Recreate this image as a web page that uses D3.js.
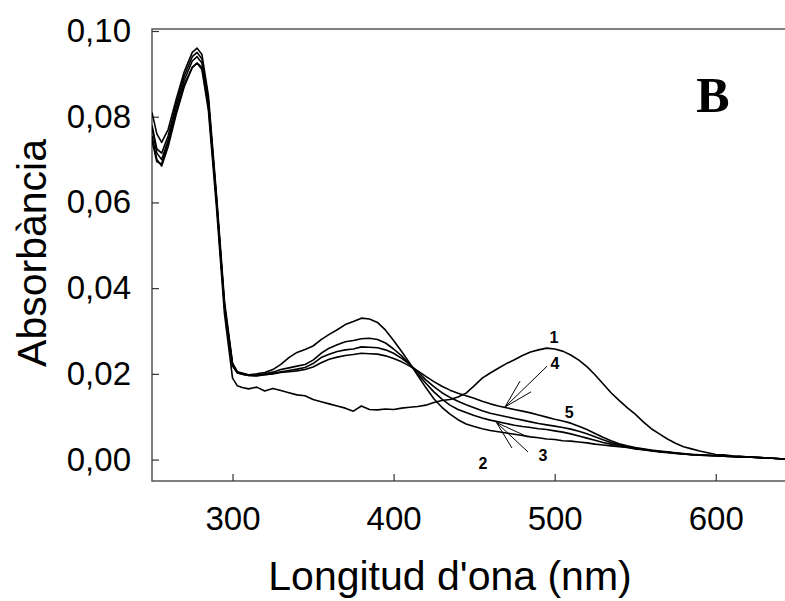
<!DOCTYPE html>
<html>
<head>
<meta charset="utf-8">
<script src="https://cdn.jsdelivr.net/npm/d3@7"></script>
<style>
body { margin: 0; background: #fff; }
text { font-family: Arial, "Liberation Sans", sans-serif; }
</style>
</head>
<body>
<div id="chart"></div>
<script>
// wavelength grid (nm), finer round the 278 nm peak
var wavelengths = [250, 253, 256, 260, 265, 270, 275, 278, 281, 285, 290, 295, 300, 303, 306,
    310, 315, 320, 325, 330, 335, 340, 345, 350, 355, 360, 365, 370, 375, 380, 385, 390, 395,
    400, 405, 410, 415, 420, 425, 430, 435, 440, 445, 450, 455, 460, 465, 470, 475, 480, 485,
    490, 495, 500, 505, 510, 515, 520, 525, 530, 535, 540, 545, 550, 555, 560, 565, 570, 575,
    580, 585, 590, 595, 600, 605, 610, 615, 620, 625, 630, 635, 640, 645];

// absorbance
var abs1 = [0.0745, 0.0695, 0.069, 0.074, 0.081, 0.0875, 0.0915, 0.0925, 0.091, 0.0815, 0.059, 0.034, 0.019, 0.0172, 0.0168,
    0.0165, 0.0169, 0.016, 0.0166, 0.0161, 0.0156, 0.0151, 0.0149, 0.014, 0.0135, 0.013, 0.0125, 0.012, 0.0113, 0.0125, 0.0117, 0.0116, 0.0118,
    0.0117, 0.012, 0.0122, 0.0124, 0.0127, 0.0133, 0.0138, 0.014, 0.0146, 0.0155, 0.0172, 0.019, 0.0202, 0.0213, 0.0224, 0.0233, 0.0243, 0.0251,
    0.0256, 0.026, 0.0258, 0.0253, 0.0244, 0.0232, 0.0217, 0.0198, 0.0177, 0.0156, 0.0138, 0.0121, 0.0106, 0.0088, 0.0072, 0.006, 0.0048, 0.0038,
    0.003, 0.0025, 0.002, 0.0016, 0.0012, 0.0011, 0.0009, 0.0008, 0.0006, 0.0006, 0.0004, 0.0003, 0.0002, 0.0001];
var abs2 = [0.081, 0.076, 0.074, 0.077, 0.084, 0.0905, 0.095, 0.096, 0.0945, 0.085, 0.062, 0.037, 0.0225, 0.0205, 0.0202,
    0.0198, 0.02, 0.0203, 0.021, 0.0222, 0.0238, 0.025, 0.0257, 0.0265, 0.028, 0.0292, 0.0303, 0.0315, 0.0322, 0.033, 0.0328, 0.032, 0.0302,
    0.0278, 0.0252, 0.0225, 0.0196, 0.0168, 0.0142, 0.0122, 0.0106, 0.0093, 0.0083, 0.0077, 0.0072, 0.0068, 0.0065, 0.0062, 0.0059, 0.0056, 0.0053,
    0.0051, 0.0048, 0.0047, 0.0044, 0.0043, 0.0041, 0.0039, 0.0036, 0.0034, 0.0032, 0.003, 0.0028, 0.0025, 0.0023, 0.002, 0.0018, 0.0016, 0.0014,
    0.0013, 0.0011, 0.001, 0.0009, 0.0009, 0.0008, 0.0007, 0.0006, 0.0006, 0.0005, 0.0004, 0.0003, 0.0002, 0.0001];
var abs3 = [0.078, 0.0725, 0.0715, 0.0755, 0.083, 0.0895, 0.094, 0.095, 0.0935, 0.084, 0.061, 0.036, 0.022, 0.0203, 0.0199,
    0.0196, 0.0197, 0.02, 0.0204, 0.021, 0.0214, 0.0218, 0.0222, 0.0232, 0.0248, 0.026, 0.0268, 0.0275, 0.0278, 0.0282, 0.0283, 0.028, 0.0272,
    0.0258, 0.0242, 0.0222, 0.02, 0.0178, 0.0158, 0.0141, 0.0127, 0.0117, 0.011, 0.0103, 0.0097, 0.0092, 0.0088, 0.0084, 0.008, 0.0077, 0.0075,
    0.0072, 0.007, 0.0067, 0.0064, 0.006, 0.0055, 0.005, 0.0045, 0.004, 0.0036, 0.0032, 0.0029, 0.0026, 0.0023, 0.0021, 0.0019, 0.0017, 0.0015,
    0.0013, 0.0012, 0.0011, 0.001, 0.0009, 0.0008, 0.0007, 0.0006, 0.0006, 0.0005, 0.0004, 0.0003, 0.0002, 0.0001];
var abs4 = [0.0775, 0.0715, 0.07, 0.0745, 0.082, 0.0885, 0.093, 0.094, 0.0925, 0.0835, 0.061, 0.036, 0.0222, 0.0204, 0.02,
    0.0197, 0.0196, 0.0198, 0.02, 0.0203, 0.0205, 0.0207, 0.021, 0.0216, 0.0226, 0.0234, 0.0239, 0.0243, 0.0245, 0.0248, 0.0247, 0.0246, 0.0242,
    0.0236, 0.0228, 0.0218, 0.0207, 0.0194, 0.0182, 0.0171, 0.0162, 0.0155, 0.0149, 0.0143, 0.0136, 0.013, 0.0125, 0.0121, 0.0117, 0.0113, 0.0109,
    0.0104, 0.0099, 0.0094, 0.009, 0.0085, 0.0078, 0.007, 0.0061, 0.0052, 0.0044, 0.0037, 0.0032, 0.0028, 0.0025, 0.0022, 0.002, 0.0018, 0.0016,
    0.0014, 0.0012, 0.0011, 0.001, 0.0009, 0.0008, 0.0007, 0.0006, 0.0006, 0.0005, 0.0004, 0.0003, 0.0002, 0.0001];
var abs5 = [0.0755, 0.07, 0.0685, 0.073, 0.0805, 0.087, 0.0915, 0.0925, 0.0915, 0.0825, 0.0605, 0.0355, 0.0218, 0.0202, 0.0199,
    0.0196, 0.0195, 0.0198, 0.0201, 0.0205, 0.0208, 0.0211, 0.0215, 0.0224, 0.0238, 0.0246, 0.0252, 0.0256, 0.0258, 0.0263, 0.0262, 0.0261, 0.0256,
    0.0248, 0.0236, 0.0222, 0.0205, 0.0186, 0.017, 0.0156, 0.0145, 0.0136, 0.0128, 0.0121, 0.0114, 0.0108, 0.0104, 0.01, 0.0096, 0.0092, 0.0088,
    0.0084, 0.0081, 0.0078, 0.0075, 0.0071, 0.0066, 0.006, 0.0053, 0.0046, 0.004, 0.0035, 0.003, 0.0026, 0.0024, 0.0021, 0.0019, 0.0017, 0.0015,
    0.0013, 0.0012, 0.0011, 0.001, 0.0009, 0.0008, 0.0007, 0.0006, 0.0006, 0.0005, 0.0004, 0.0003, 0.0002, 0.0001];

var seriesNames = ["1", "2", "3", "4", "5"];
var seriesValues = [abs1, abs2, abs3, abs4, abs5];

// axis ticks
var xTicks = [300, 400, 500, 600];
var yTicks = [0, 0.02, 0.04, 0.06, 0.08, 0.10];

// curve number labels (nm, absorbance)
var labelText = ["1", "4", "5", "3", "2"];
var labelNm = [499.6, 500.2, 509, 492.8, 455.5];
var labelAbs = [0.0284, 0.0225, 0.0109, 0.00105, -0.0008];

// leader lines: start point then end point (nm, absorbance)
var leaderFrom = [[469.1, 0.01225], [469.1, 0.01225], [469.1, 0.01225], [463.9, 0.00863], [463.9, 0.00863], [463.9, 0.00863]];
var leaderTo = [[495.3, 0.0218], [478.5, 0.0183], [485.3, 0.0158], [473.5, 0.00268], [483.5, 0.00175], [483.5, 0.00525]];

var width = 785,
    height = 601;

var svg = d3.select("#chart").append("svg")
    .attr("width", width)
    .attr("height", height);

var x = d3.scaleLinear()
    .domain([250, 643])
    .range([152, 785]);

var y = d3.scaleLinear()
    .domain([-0.005, 0.1])
    .range([481, 31]);

//clip curves to the frame
svg.append("clipPath")
    .attr("id", "plotclip")
    .append("rect")
    .attr("x", 152)
    .attr("y", 29)
    .attr("width", 640)
    .attr("height", 452);

// frame
svg.append("rect")
    .attr("x", 152)
    .attr("y", 29)
    .attr("width", 650)
    .attr("height", 452)
    .attr("fill", "none")
    .attr("stroke", "#555")
    .attr("stroke-width", 1.5);

var fmt = d3.format(".2f");

var yAxis = svg.append("g")
    .attr("transform", "translate(152,0)")
    .call(d3.axisLeft(y)
        .tickValues(yTicks)
        .tickSize(-7)
        .tickPadding(21)
        .tickFormat(function(d) { return fmt(d).replace(".", ","); }));

var xAxis = svg.append("g")
    .attr("transform", "translate(0,481)")
    .call(d3.axisBottom(x)
        .tickValues(xTicks)
        .tickSize(-7)
        .tickPadding(26));

svg.selectAll(".domain").remove();
svg.selectAll(".tick line").attr("stroke", "#333").attr("stroke-width", 1.2);
svg.selectAll(".tick text")
    .attr("fill", "#000")
    .style("font-size", "33px")
    .style("font-family", "Arial, 'Liberation Sans', sans-serif");

// axis titles
svg.append("text")
    .attr("x", 450)
    .attr("y", 590)
    .attr("text-anchor", "middle")
    .style("font-size", "41px")
    .text("Longitud d'ona (nm)");

svg.append("text")
    .attr("transform", "translate(46,253) rotate(-90)")
    .attr("text-anchor", "middle")
    .style("font-size", "41px")
    .text("Absorbància");

// spectra
var line = d3.line()
    .x(function(d, i) { return x(wavelengths[i]); })
    .y(function(d) { return y(d); });

svg.append("g")
    .attr("clip-path", "url(#plotclip)")
    .selectAll("path")
    .data(seriesValues)
    .enter()
    .append("path")
    .attr("d", line)
    .attr("fill", "none")
    .attr("stroke", "#000")
    .attr("stroke-width", 1.6)
    .attr("stroke-linejoin", "round");

// leader lines
svg.append("g")
    .selectAll("line")
    .data(leaderFrom)
    .enter()
    .append("line")
    .attr("x1", function(d) { return x(d[0]); })
    .attr("y1", function(d) { return y(d[1]); })
    .attr("x2", function(d, i) { return x(leaderTo[i][0]); })
    .attr("y2", function(d, i) { return y(leaderTo[i][1]); })
    .attr("stroke", "#000")
    .attr("stroke-width", 1);

// curve numbers
svg.append("g")
    .selectAll("text")
    .data(labelText)
    .enter()
    .append("text")
    .attr("x", function(d, i) { return x(labelNm[i]); })
    .attr("y", function(d, i) { return y(labelAbs[i]); })
    .attr("dy", "0.35em")
    .attr("text-anchor", "middle")
    .style("font-size", "16px")
    .style("font-weight", "bold")
    .text(function(d) { return d; });

// panel letter
svg.append("text")
    .attr("x", 713)
    .attr("y", 112)
    .attr("text-anchor", "middle")
    .style("font-family", "'Liberation Serif', 'Times New Roman', serif")
    .style("font-size", "50px")
    .style("font-weight", "bold")
    .text("B");
</script>
</body>
</html>
